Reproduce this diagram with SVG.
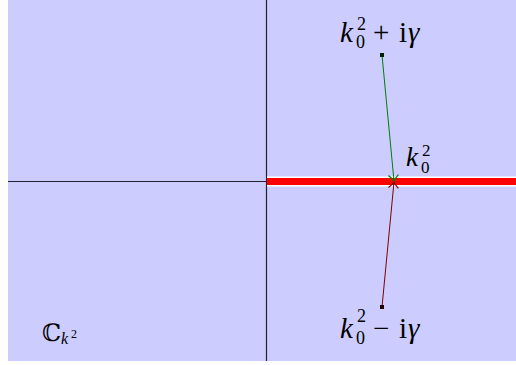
<svg xmlns="http://www.w3.org/2000/svg" width="516" height="365" viewBox="0 0 516 365">
<defs>
<marker id="ag" viewBox="-7 -6 8 12" markerWidth="8" markerHeight="12" refX="0" refY="0" orient="auto" markerUnits="userSpaceOnUse">
<path d="M-6,-5 Q-2,-1 0,0 Q-2,1 -6,5" fill="none" stroke="#008000" stroke-width="1.1"/>
</marker>
<marker id="ar" viewBox="-7 -6 8 12" markerWidth="8" markerHeight="12" refX="0" refY="0" orient="auto" markerUnits="userSpaceOnUse">
<path d="M-6,-5 Q-2,-1 0,0 Q-2,1 -6,5" fill="none" stroke="#800000" stroke-width="1.1"/>
</marker>
</defs>
<rect x="8" y="0" width="508" height="361" fill="#ccccff"/>
<g id="axes" stroke="#222233" stroke-width="1.2" fill="none">
<line x1="266.5" y1="0" x2="266.5" y2="361"/>
<line x1="8" y1="181.5" x2="266.5" y2="181.5"/>
</g>
<g id="cut">
<rect x="267" y="176.5" width="249" height="10" fill="#ffffff"/>
<rect x="267" y="178" width="249" height="7" fill="#ff0000"/>
</g>
<g id="connectors">
<line x1="382" y1="55" x2="394" y2="181" stroke="#008000" stroke-width="1" marker-end="url(#ag)"/>
<line x1="382" y1="307" x2="394" y2="182" stroke="#800000" stroke-width="1" marker-end="url(#ar)"/>
</g>
<g id="p-plus" font-family="'Liberation Serif', 'DejaVu Serif', serif" font-size="29" fill="#000">
<rect x="380" y="53" width="4" height="4" fill="#002200"/>
<text x="340" y="42" font-style="italic">k</text>
<text x="356" y="48" font-size="18">0</text>
<text x="357" y="30" font-size="18">2</text>
<text x="373" y="42">+</text>
<text x="399" y="42">i</text>
<text x="408" y="42" font-style="italic">γ</text>
</g>
<g id="p-real" font-family="'Liberation Serif', 'DejaVu Serif', serif" font-size="27" fill="#000">
<text x="406" y="166" font-style="italic">k</text>
<text x="421" y="173" font-size="17">0</text>
<text x="422" y="156" font-size="17">2</text>
</g>
<g id="p-minus" font-family="'Liberation Serif', 'DejaVu Serif', serif" font-size="29" fill="#000">
<rect x="380" y="305" width="4" height="4" fill="#220000"/>
<text x="340" y="338" font-style="italic">k</text>
<text x="356" y="344" font-size="18">0</text>
<text x="357" y="322" font-size="18">2</text>
<text x="373" y="338">−</text>
<text x="399" y="338">i</text>
<text x="408" y="338" font-style="italic">γ</text>
</g>
<g id="plane-label" fill="#000">
<text x="42" y="341" font-family="'DejaVu Serif', serif" font-size="24">ℂ</text>
<text x="61" y="344" font-family="'Liberation Serif', serif" font-style="italic" font-size="16">k</text>
<text x="71" y="338" font-family="'Liberation Serif', serif" font-size="12">2</text>
</g>
</svg>
